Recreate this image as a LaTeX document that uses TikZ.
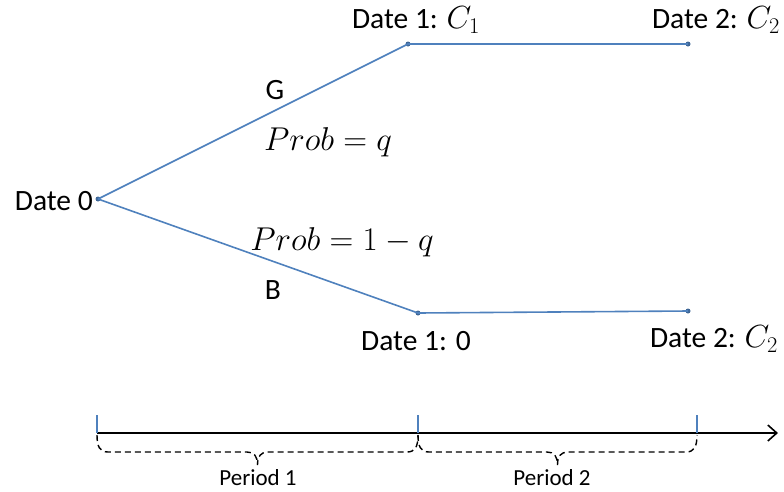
\RequirePackage{fix-cm}
\documentclass[tikz,border=0pt]{standalone}
\usepackage{fontspec}
\setmainfont{Carlito}
\usetikzlibrary{arrows.meta}
\definecolor{lineblue}{HTML}{4F81BD}
\newcommand{\bigC}[1]{{\fontsize{32}{32}\selectfont$C_{#1}$}}
\tikzset{
  branch/.style={draw=lineblue, line width=1.6pt},
  enddot/.style={circle, fill=lineblue!80!black, inner sep=0pt, minimum size=5pt},
  lbl/.style={inner sep=0pt, font=\fontsize{29.5}{32}\selectfont},
  mlbl/.style={inner sep=0pt, font=\fontsize{33}{36}\selectfont},
  plbl/.style={inner sep=0pt, font=\fontsize{23}{26}\selectfont},
  tick/.style={draw=lineblue, line width=1.6pt},
  brc/.style={draw, line width=1.4pt, dash pattern=on 6pt off 4pt},
}
\begin{document}
\begin{tikzpicture}[x=1pt, y=-1pt]
\useasboundingbox (0,0) rectangle (784,491);
% tree points
\node[enddot] (d0) at (98,199) {};
\node[enddot] (u1) at (408,44) {};
\node[enddot] (u2) at (688,44) {};
\node[enddot] (l1) at (418,313) {};
\node[enddot] (l2) at (688,311) {};
\draw[branch] (d0.center) -- (u1.center) -- (u2.center);
\draw[branch] (d0.center) -- (l1.center) -- (l2.center);
% labels
\node[lbl, anchor=east] (t0) at (93,201) {Date 0};
\node[lbl] (t1) at (416,20) {Date 1: \bigC{1}};
\node[lbl] (t2) at (716,20) {Date 2: \bigC{2}};
\node[lbl] (t3) at (416,341) {Date 1: 0};
\node[lbl] (t4) at (714,339) {Date 2: \bigC{2}};
\node[lbl] (g) at (275,90) {G};
\node[lbl] (b) at (273,290) {B};
\node[mlbl] (pq) at (328,142) {$Prob = q$};
\node[mlbl] (p1q) at (342,242) {$Prob = 1 - q$};
% axis
\coordinate (a0) at (97,433);
\coordinate (a1) at (418,433);
\coordinate (a2) at (697,433);
\coordinate (aend) at (778,433);
\coordinate (k0) at (97,415);
\coordinate (k1) at (418,415);
\coordinate (k2) at (697,415);
\draw[line width=1.6pt, -{Straight Barb[length=9pt, width=16pt, line width=1.6pt]}] (a0) -- (aend);
\draw[tick] (k0) -- (a0);
\draw[tick] (k1) -- (a1);
\draw[tick] (k2) -- (a2);
% braces
\draw[brc] (97,435) .. controls (97,447) and (100,452) .. (108,452) -- (247,452)
  .. controls (254,452) and (257.5,456) .. (257.5,465)
  .. controls (257.5,456) and (261,452) .. (268,452) -- (407,452)
  .. controls (415,452) and (418,447) .. (418,435);
\draw[brc] (418,435) .. controls (418,447) and (421,452) .. (429,452) -- (547,452)
  .. controls (554,452) and (557.5,456) .. (557.5,465)
  .. controls (557.5,456) and (561,452) .. (568,452) -- (686,452)
  .. controls (694,452) and (697,447) .. (697,435);
\node[plbl] (p1) at (258,478) {Period 1};
\node[plbl] (p2) at (552,478) {Period 2};
\end{tikzpicture}
\end{document}
